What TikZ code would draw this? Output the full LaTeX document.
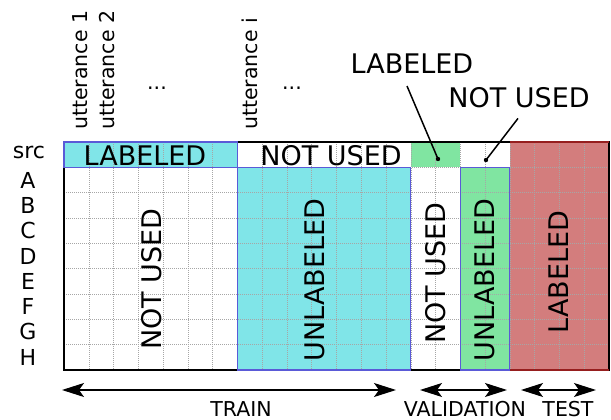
\documentclass[tikz,border=0pt]{standalone}
\usepackage{fontspec}
\setmainfont{DejaVu Sans}
\usepackage{tikz}
\usetikzlibrary{arrows.meta, positioning}
\definecolor{cellcyan}{RGB}{128,229,232}
\definecolor{cellgreen}{RGB}{128,229,161}
\definecolor{cellred}{RGB}{211,125,125}
\definecolor{rededge}{RGB}{150,30,30}
\definecolor{blueedge}{RGB}{90,90,215}
\tikzstyle{bigtext} = [inner sep=0pt, font=\fontsize{27}{30}\selectfont]
\tikzstyle{rowlabel} = [inner sep=0pt, font=\fontsize{22}{24}\selectfont]
\tikzstyle{uttlabel} = [inner sep=0pt, rotate=90, anchor=west, font=\fontsize{20.5}{22}\selectfont]
\tikzstyle{splitlabel} = [inner sep=0pt, anchor=base, font=\fontsize{20.5}{22}\selectfont]
\tikzstyle{splitarrow} = [line width=1.3pt, >={Stealth[length=22pt, width=14pt, inset=5pt]}, <->]
\tikzstyle{gridline} = [gray!70, line width=0.5pt, dash pattern=on 1pt off 1pt]
\tikzstyle{blockedge} = [blueedge, line width=1.2pt]
\tikzstyle{pointer} = [line width=1.5pt]

\begin{document}
\begin{tikzpicture}[x=1pt, y=-1pt]
    \useasboundingbox (0,0) rectangle (611,420);

    % Cells (one unit = one utterance / one row)
    \begin{scope}[shift={(64,142)}, x=24.77pt, y=-25.33pt]
        \fill[cellcyan] (0,0) rectangle (7,1);
        \fill[cellgreen] (14,0) rectangle (16,1);
        \fill[cellcyan] (7,1) rectangle (14,9);
        \fill[cellgreen] (16,1) rectangle (18,9);
        \fill[cellred] (18,0) rectangle (22,9);
        \foreach \c in {1,...,21} \draw[gridline] (\c,0) -- (\c,9);
        \foreach \r in {1,...,8} \draw[gridline] (0,\r) -- (22,\r);
        \draw[line width=1.2pt] (0,0) rectangle (22,9);
        \draw[blockedge] (0,0) rectangle (7,1);
        \draw[blockedge] (7,1) rectangle (14,9);
        \draw[blockedge] (16,1) rectangle (18,9);
        \draw[rededge, line width=1.2pt] (18,0) -- (22,0);
        \draw[rededge, line width=1.2pt] (18,9) -- (22,9);
    \end{scope}

    % Row labels
    \node[rowlabel, anchor=base] (rowsrc) at (29,158) {src};
    \foreach \lbl [count=\i] in {A,B,C,D,E,F,G,H}
        \node[rowlabel] (row\lbl) at (28,{154.67+25.33*\i}) {\lbl};

    % Column labels
    \node[uttlabel] (utt1) at (80,130) {utterance 1};
    \node[uttlabel] (utt2) at (107,130) {utterance 2};
    \node[uttlabel] (utti) at (250,130) {utterance i};
    \node[splitlabel] (dotsA) at (157,90) {...};
    \node[splitlabel] (dotsB) at (292,90) {...};

    % Block texts
    \node[bigtext] (srclab) at (145,155.5) {LABELED};
    \node[bigtext] (srcunused) at (331,156) {NOT USED};
    \node[bigtext, rotate=90] (trainunused) at (152,279) {NOT USED};
    \node[bigtext, rotate=90] (trainunlab) at (315,280) {UNLABELED};
    \node[bigtext, rotate=90] (valunused) at (436,273) {NOT USED};
    \node[bigtext, rotate=90] (valunlab) at (485,280) {UNLABELED};
    \node[bigtext, rotate=90] (testlab) at (559,272) {LABELED};

    % Pointers to the validation src cells
    \node[bigtext] (annlab) at (412,64) {LABELED};
    \node[bigtext] (annunused) at (519,98) {NOT USED};
    \coordinate (labtail) at ([xshift=-5pt, yshift=-12pt]annlab.south);
    \coordinate (unusedtail) at ([xshift=-1pt, yshift=-10pt]annunused.south);
    \coordinate (labdot) at (438,159);
    \coordinate (unuseddot) at (486,160);
    \draw[pointer] (labtail) -- (labdot);
    \draw[pointer] (unusedtail) -- (unuseddot);
    \fill (labdot) circle (2.2);
    \fill (unuseddot) circle (2.2);

    % Splits
    \coordinate (trainL) at (62,390);
    \coordinate (trainR) at (396,390);
    \coordinate (valL) at (420,390);
    \coordinate (valR) at (507,390);
    \coordinate (testL) at (521,390);
    \coordinate (testR) at (596,390);
    \draw[splitarrow] (trainL) -- (trainR);
    \draw[splitarrow] (valL) -- (valR);
    \draw[splitarrow] (testL) -- (testR);
    \node[splitlabel] (trainlab) at (241,416.5) {TRAIN};
    \node[splitlabel] (vallab) at (465,416.5) {VALIDATION};
    \node[splitlabel] (testlabel) at (568,416.5) {TEST};
\end{tikzpicture}
\end{document}
